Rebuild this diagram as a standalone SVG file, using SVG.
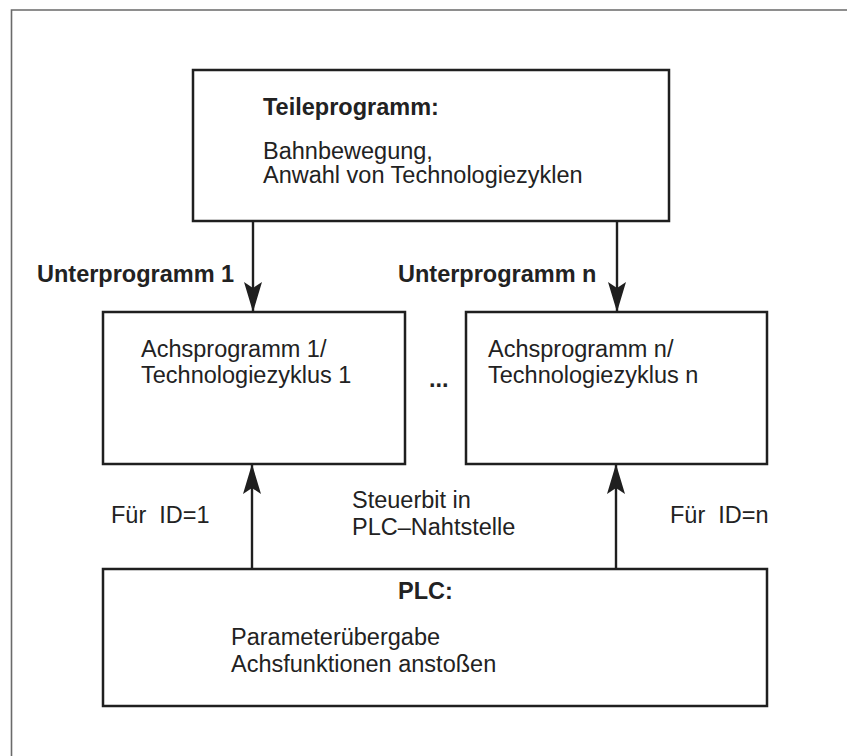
<svg xmlns="http://www.w3.org/2000/svg" width="847" height="756" viewBox="0 0 847 756">
<style>
.box{fill:#fff;stroke:#1f1f1f;stroke-width:2.5}
.t{font-family:"Liberation Sans",Arial,sans-serif;font-size:23.5px;fill:#222}
.b{font-weight:bold}
.line{stroke:#1f1f1f;stroke-width:2.4;fill:none}
.frame{stroke:#6a6a6a;stroke-width:1.6;fill:none}
</style>
<defs>
<marker id="ah" markerUnits="userSpaceOnUse" markerWidth="30" markerHeight="18" refX="30" refY="9" orient="auto" viewBox="0 0 30 18">
<path d="M0,0 L30,9 L0,18 L6,9 Z" fill="#1f1f1f"/>
</marker>
</defs>
<rect width="847" height="756" fill="#fff"/>
<path class="frame" d="M11.5,756 L11.5,10 L847,10"/>
<g id="teileprogramm">
<rect class="box" x="193" y="70" width="476" height="151"/>
<text class="t b" x="263" y="115">Teileprogramm:</text>
<text class="t" x="263" y="159">Bahnbewegung,</text>
<text class="t" x="263" y="183">Anwahl von Technologiezyklen</text>
</g>
<g id="achsprogramm1">
<rect class="box" x="103" y="312" width="302" height="152"/>
<text class="t" x="141" y="357">Achsprogramm 1/</text>
<text class="t" x="141" y="383">Technologiezyklus 1</text>
</g>
<g id="achsprogrammn">
<rect class="box" x="466" y="312" width="301" height="152"/>
<text class="t" x="488" y="357">Achsprogramm n/</text>
<text class="t" x="488" y="383">Technologiezyklus n</text>
</g>
<g id="plc">
<rect class="box" x="103" y="569" width="664" height="137"/>
<text class="t b" x="398" y="599">PLC:</text>
<text class="t" x="231" y="645">Parameterübergabe</text>
<text class="t" x="231" y="672">Achsfunktionen anstoßen</text>
</g>
<g id="connectors">
<line class="line" x1="253" y1="221" x2="253" y2="312" marker-end="url(#ah)"/>
<line class="line" x1="617" y1="221" x2="617" y2="312" marker-end="url(#ah)"/>
<line class="line" x1="252" y1="569" x2="252" y2="464" marker-end="url(#ah)"/>
<line class="line" x1="616" y1="569" x2="616" y2="464" marker-end="url(#ah)"/>
</g>
<g id="labels">
<text class="t b" x="37" y="282">Unterprogramm 1</text>
<text class="t b" x="398" y="282">Unterprogramm n</text>
<text class="t b" x="429" y="387">...</text>
<text class="t" x="111" y="523" xml:space="preserve">Für  ID=1</text>
<text class="t" x="352" y="508">Steuerbit in</text>
<text class="t" x="352" y="535">PLC–Nahtstelle</text>
<text class="t" x="670" y="523" xml:space="preserve">Für  ID=n</text>
</g>
</svg>
